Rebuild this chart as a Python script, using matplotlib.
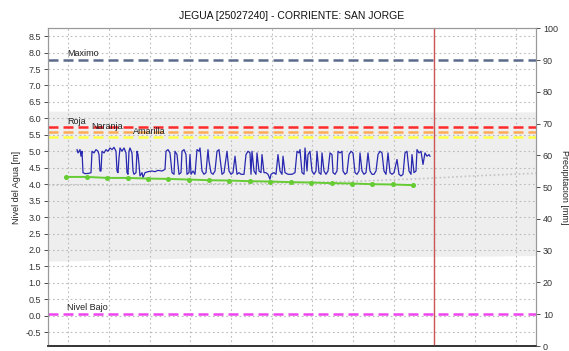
import matplotlib
matplotlib.use("Agg")
import matplotlib.pyplot as plt
import numpy as np

plt.rcParams['font.family'] = ['Liberation Sans', 'DejaVu Sans']

# daily water level (m), day index vs level
nivel_dia = [77, 78, 79, 80, 81, 82, 83, 85, 89, 91, 92, 94, 96, 98, 99, 100, 101, 102, 104, 106,
             108, 110, 112, 114, 116, 117, 118, 119, 120, 122, 124, 126, 127, 128, 129, 130, 132, 133,
             134, 136, 137, 138, 139, 140, 142, 143, 145, 148, 152, 155, 158, 162, 165, 166, 168, 170,
             172, 174, 175, 177, 179, 181, 182, 184, 186, 187, 189, 190, 191, 193, 195, 197, 199, 200,
             202, 204, 206, 208, 209, 211, 213, 215, 217, 219, 220, 222, 224, 226, 227, 229, 231, 233,
             235, 237, 239, 241, 244, 246, 248, 250, 251, 252, 254, 256, 257, 259, 261, 262, 264, 266,
             268, 270, 271, 274, 276, 278, 280, 282, 283, 285, 288, 292, 295, 297, 299, 300, 302, 304,
             305, 307, 308, 310, 312, 314, 316, 317, 319, 321, 322, 324, 326, 328, 330, 332, 333, 335,
             337, 338, 340, 342, 343, 345, 347, 349, 351, 353, 355, 357, 359, 360, 362, 364, 366, 368,
             370, 372, 374, 376, 378, 380, 382, 384, 386, 388, 390, 392, 394, 397, 399, 401, 403, 405,
             407, 409, 411, 412, 414, 416, 417, 419, 421, 423, 425, 427, 429, 430]
nivel_m = [5.05, 4.95, 5.0, 5.05, 4.85, 5.0, 4.35, 4.32, 4.33, 4.35, 5.0, 4.95, 5.05, 5.0, 4.9, 4.4,
           4.4, 5.0, 4.95, 5.05, 5.0, 5.1, 5.05, 5.12, 5.0, 4.4, 4.35, 4.8, 5.1, 5.0, 5.1, 4.95, 4.35,
           4.3, 5.0, 5.1, 4.95, 4.4, 4.3, 4.35, 5.0, 4.9, 4.6, 4.25, 4.35, 4.2, 4.35, 4.38, 4.4, 4.38,
           4.42, 4.4, 4.45, 5.0, 5.05, 4.95, 4.35, 4.3, 5.0, 4.9, 4.3, 4.35, 5.0, 5.05, 4.9, 4.3, 4.35,
           4.9, 4.3, 4.4, 4.3, 5.05, 5.0, 5.1, 4.4, 4.3, 4.35, 5.05, 4.7, 4.35, 4.3, 4.4, 5.0, 5.05,
           4.8, 4.3, 4.35, 4.8, 5.0, 4.4, 4.3, 4.35, 4.85, 4.3, 4.35, 4.3, 4.3, 4.9, 5.0, 4.95, 4.3,
           5.0, 4.4, 4.3, 4.95, 4.4, 4.35, 4.9, 4.35, 4.35, 4.3, 4.15, 4.3, 4.35, 4.3, 4.9, 4.4, 4.3,
           4.85, 4.35, 4.3, 4.3, 4.35, 5.0, 4.95, 5.05, 4.35, 4.3, 5.1, 4.4, 4.9, 5.0, 4.4, 4.3, 4.4,
           5.0, 4.35, 4.3, 4.95, 4.4, 4.3, 4.4, 4.95, 4.9, 4.35, 4.3, 4.4, 5.0, 4.95, 5.0, 4.4, 4.3,
           4.35, 4.9, 5.0, 4.95, 4.35, 4.3, 4.4, 4.95, 4.4, 4.3, 4.35, 4.95, 4.4, 4.3, 4.3, 4.4, 4.9,
           5.0, 4.95, 4.4, 4.3, 4.95, 4.35, 4.3, 4.35, 4.75, 4.3, 4.25, 4.3, 4.95, 5.0, 4.4, 4.3, 4.9,
           4.35, 4.4, 5.05, 4.95, 5.0, 4.6, 4.95, 4.85, 4.9, 4.85]

# periodic readings (green)
lect_dia = [66, 87, 107, 128, 148, 168, 189, 209, 229, 250, 270, 291, 311, 332, 352, 372, 393, 413]
lect_m = [4.22, 4.22, 4.19, 4.19, 4.17, 4.16, 4.14, 4.12, 4.11, 4.09, 4.08, 4.06, 4.05, 4.03,
          4.02, 4.0, 3.99, 3.97]

# historical envelope and mean
hist_dia = [48, 120, 200, 300, 400, 480, 536]
hist_min = [1.66, 1.70, 1.76, 1.79, 1.80, 1.81, 1.83]
hist_max = [6.22, 6.22, 6.21, 6.21, 6.20, 6.20, 6.20]
media_dia = [48, 150, 250, 350, 430, 480, 536]
media_m = [3.97, 3.99, 4.02, 4.08, 4.18, 4.26, 4.33]

# alert levels
umbrales = {'Maximo': 7.77, 'Roja': 5.73, 'Naranja': 5.59, 'Amarilla': 5.44, 'Nivel Bajo': 0.05}
colores = {'Maximo': '#5c6b8c', 'Roja': '#ff2a2a', 'Naranja': '#ffaa55',
           'Amarilla': '#ffff44', 'Nivel Bajo': '#ee44ee'}
etiqueta_pos = {'Maximo': (67, 7.83), 'Roja': (67, 5.77), 'Naranja': (91, 5.62),
                'Amarilla': (133, 5.46), 'Nivel Bajo': (67, 0.10)}
hoy = 434

fig = plt.figure(figsize=(5.69, 3.51), dpi=100)
ax = fig.add_axes([48 / 569, 5 / 351, 488 / 569, 317.75 / 351])
ax2 = ax.twinx()

ax.fill_between(hist_dia, hist_min, hist_max, color='#eeeeee', lw=0, zorder=0)
ax.plot(media_dia, media_m, color='#c4c4c4', lw=1.2, ls=(0, (1, 1.5)), zorder=1)

# grid
for g in np.arange(-0.5, 9.0, 0.5):
    ax.axhline(g, color='#bbbbbb', lw=0.8, ls=(0, (1.5, 2.5)), zorder=1)
for gx in 48 + 488 / 12 * (np.arange(12) + 0.5):
    ax.axvline(gx, color='#bbbbbb', lw=0.8, ls=(0, (1.5, 2.5)), zorder=1)

for k, v in umbrales.items():
    ax.axhline(v, color=colores[k], lw=1.8, ls=(0, (4, 2)), zorder=2)
    ax.text(*etiqueta_pos[k], k, fontsize=6.5, color='#222222', va='bottom', ha='left', zorder=5)

ax.plot(nivel_dia, nivel_m, color='#2828b0', lw=0.9, zorder=3)
ax.plot(lect_dia, lect_m, color='#66cc33', lw=1.4, marker='o', ms=2.6, zorder=4)
ax.axvline(hoy, color='#cc5555', lw=1.0, zorder=4)

ax.set_xlim(48, 536)
ax.set_ylim(-0.92, 8.74)
ax.set_yticks(np.arange(-0.5, 8.6, 0.5))
ax.set_yticklabels([f'{t:.1f}' for t in np.arange(-0.5, 8.6, 0.5)])
ax.set_xticks([])
ax2.set_ylim(0, 100)
ax2.set_yticks(range(0, 101, 10))

for a in (ax, ax2):
    a.tick_params(axis='y', labelsize=6.5, colors='#333333', length=3, width=0.6, pad=2)
    for s in ('left', 'top', 'right'):
        a.spines[s].set_color('#999999')
        a.spines[s].set_linewidth(0.8)
    a.spines['bottom'].set_color('#333333')
    a.spines['bottom'].set_linewidth(1.2)
    a.spines['bottom'].set_linestyle((0, (1, 1)))

ax.set_ylabel('Nivel del Agua [m]', fontsize=6.5, color='#222222', labelpad=3)
ax2.set_ylabel('Precipitacion [mm]', fontsize=6.5, color='#222222', rotation=270, labelpad=8)
ax.set_title('JEGUA [25027240] - CORRIENTE: SAN JORGE', fontsize=7.5, color='#111111', pad=7)

fig.savefig('out.png', dpi=100)
